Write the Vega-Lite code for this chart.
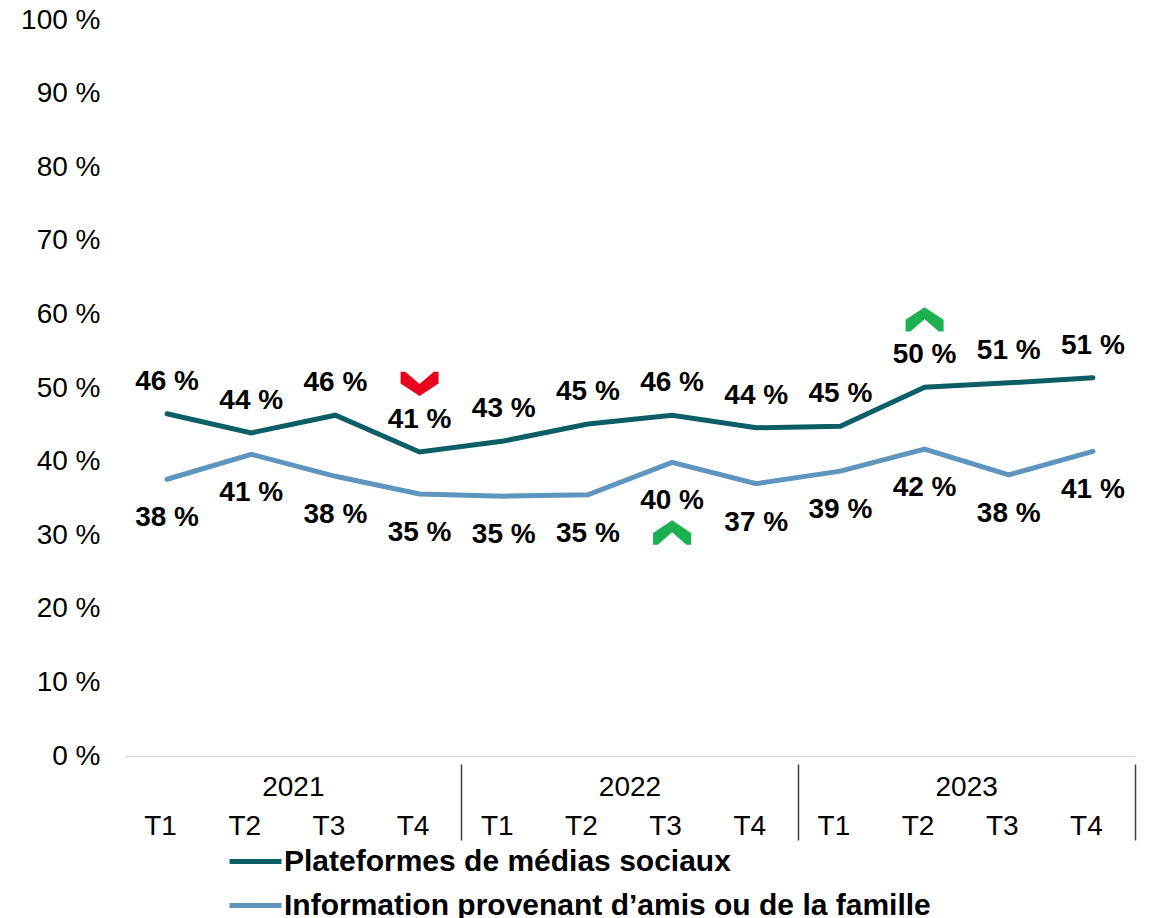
{
  "$schema": "https://vega.github.io/schema/vega-lite/v6.json",
  "autosize": {"type": "none"},
  "width": 1010,
  "height": 736,
  "padding": {"left": 125, "top": 20, "right": 18, "bottom": 162},
  "background": "white",
  "config": {
    "view": {"stroke": null},
    "font": "Liberation Sans",
    "axis": {"labelFont": "Liberation Sans", "labelColor": "#000000", "labelFontSize": 28}
  },
  "data": {
    "values": [
      {"period": "2021 T1", "year": "2021", "series": "Plateformes de médias sociaux", "value": 46.5, "label": "46 %"},
      {"period": "2021 T2", "year": "2021", "series": "Plateformes de médias sociaux", "value": 43.9, "label": "44 %"},
      {"period": "2021 T3", "year": "2021", "series": "Plateformes de médias sociaux", "value": 46.3, "label": "46 %"},
      {"period": "2021 T4", "year": "2021", "series": "Plateformes de médias sociaux", "value": 41.3, "label": "41 %", "arrow": "down"},
      {"period": "2022 T1", "year": "2022", "series": "Plateformes de médias sociaux", "value": 42.8, "label": "43 %"},
      {"period": "2022 T2", "year": "2022", "series": "Plateformes de médias sociaux", "value": 45.1, "label": "45 %"},
      {"period": "2022 T3", "year": "2022", "series": "Plateformes de médias sociaux", "value": 46.3, "label": "46 %"},
      {"period": "2022 T4", "year": "2022", "series": "Plateformes de médias sociaux", "value": 44.6, "label": "44 %"},
      {"period": "2023 T1", "year": "2023", "series": "Plateformes de médias sociaux", "value": 44.8, "label": "45 %"},
      {"period": "2023 T2", "year": "2023", "series": "Plateformes de médias sociaux", "value": 50.1, "label": "50 %", "arrow": "up"},
      {"period": "2023 T3", "year": "2023", "series": "Plateformes de médias sociaux", "value": 50.7, "label": "51 %"},
      {"period": "2023 T4", "year": "2023", "series": "Plateformes de médias sociaux", "value": 51.4, "label": "51 %"},
      {"period": "2021 T1", "year": "2021", "series": "Information provenant d’amis ou de la famille", "value": 37.6, "label": "38 %"},
      {"period": "2021 T2", "year": "2021", "series": "Information provenant d’amis ou de la famille", "value": 41.0, "label": "41 %"},
      {"period": "2021 T3", "year": "2021", "series": "Information provenant d’amis ou de la famille", "value": 38.0, "label": "38 %"},
      {"period": "2021 T4", "year": "2021", "series": "Information provenant d’amis ou de la famille", "value": 35.6, "label": "35 %"},
      {"period": "2022 T1", "year": "2022", "series": "Information provenant d’amis ou de la famille", "value": 35.3, "label": "35 %"},
      {"period": "2022 T2", "year": "2022", "series": "Information provenant d’amis ou de la famille", "value": 35.5, "label": "35 %"},
      {"period": "2022 T3", "year": "2022", "series": "Information provenant d’amis ou de la famille", "value": 39.9, "label": "40 %", "arrow": "up"},
      {"period": "2022 T4", "year": "2022", "series": "Information provenant d’amis ou de la famille", "value": 37.0, "label": "37 %"},
      {"period": "2023 T1", "year": "2023", "series": "Information provenant d’amis ou de la famille", "value": 38.7, "label": "39 %"},
      {"period": "2023 T2", "year": "2023", "series": "Information provenant d’amis ou de la famille", "value": 41.7, "label": "42 %"},
      {"period": "2023 T3", "year": "2023", "series": "Information provenant d’amis ou de la famille", "value": 38.2, "label": "38 %"},
      {"period": "2023 T4", "year": "2023", "series": "Information provenant d’amis ou de la famille", "value": 41.4, "label": "41 %"}
    ]
  },
  "layer": [
    {
      "mark": {"type": "point", "opacity": 0},
      "encoding": {
        "x": {
          "field": "year", "type": "ordinal",
          "scale": {"type": "band", "paddingInner": 0, "paddingOuter": 0},
          "axis": {
            "orient": "bottom", "title": null, "offset": 8, "domain": false, "grid": false,
            "ticks": true, "bandPosition": 1, "tickSize": 76, "tickColor": "#404040", "tickWidth": 1.5,
            "labelPadding": -67, "labelAngle": 0, "labelFontSize": 28
          }
        }
      }
    },
    {
      "encoding": {
        "x": {
          "field": "period", "type": "ordinal",
          "scale": {"type": "point", "padding": 0.5},
          "axis": {
            "orient": "bottom", "title": null, "domainColor": "#D9D9D9", "domainWidth": 1.5,
            "ticks": false, "grid": false, "labelPadding": 56, "labelAngle": 0, "labelOffset": -7,
            "labelExpr": "split(datum.value, ' ')[1]", "labelFontSize": 28
          }
        },
        "y": {
          "field": "value", "type": "quantitative",
          "scale": {"domain": [0, 100]},
          "axis": {
            "title": null, "values": [0, 10, 20, 30, 40, 50, 60, 70, 80, 90, 100],
            "labelExpr": "datum.value + ' %'", "domain": false, "ticks": false, "grid": false,
            "labelPadding": 25, "labelFontSize": 28
          }
        }
      },
      "layer": [
        {
          "mark": {"type": "line", "strokeWidth": 5, "strokeCap": "round"},
          "encoding": {
            "color": {
              "field": "series", "type": "nominal",
              "scale": {
                "domain": ["Plateformes de médias sociaux", "Information provenant d’amis ou de la famille"],
                "range": ["#0B5E65", "#5E95BE"]
              },
              "legend": {
                "title": null, "orient": "none", "legendX": 102, "legendY": 813, "direction": "vertical",
                "padding": 0, "symbolType": "stroke", "symbolSize": 2704, "symbolStrokeWidth": 5,
                "labelFont": "Liberation Sans", "labelFontSize": 30, "labelFontWeight": "bold",
                "labelColor": "#000000", "labelOffset": 0, "rowPadding": -9, "labelLimit": 0
              }
            }
          }
        },
        {
          "transform": [{"filter": "datum.series === 'Plateformes de médias sociaux'"}],
          "mark": {"type": "text", "dy": -32, "fontSize": 28, "fontWeight": "bold", "color": "#000000", "baseline": "middle"},
          "encoding": {"text": {"field": "label"}}
        },
        {
          "transform": [{"filter": "datum.series !== 'Plateformes de médias sociaux'"}],
          "mark": {"type": "text", "dy": 39, "fontSize": 28, "fontWeight": "bold", "color": "#000000", "baseline": "middle"},
          "encoding": {"text": {"field": "label"}}
        },
        {
          "transform": [{"filter": "datum.arrow != null && datum.series === 'Plateformes de médias sociaux'"}],
          "mark": {"type": "point", "filled": true, "size": 1444, "opacity": 1, "strokeWidth": 0, "yOffset": -68},
          "encoding": {
            "shape": {
              "field": "arrow", "type": "nominal", "legend": null,
              "scale": {"domain": ["down", "up"], "range": ["M-1,-0.65L-0.75,-0.65L0,0L0.75,-0.65L1,-0.65L1,-0.03L0,0.63L-1,-0.03Z", "M-1,0.65L-0.75,0.65L0,0L0.75,0.65L1,0.65L1,0.03L0,-0.63L-1,0.03Z"]}
            },
            "color": {"condition": {"test": "datum.arrow === 'down'", "value": "#E8001C"}, "value": "#1DB050"}
          }
        },
        {
          "transform": [{"filter": "datum.arrow != null && datum.series !== 'Plateformes de médias sociaux'"}],
          "mark": {"type": "point", "filled": true, "size": 1444, "opacity": 1, "strokeWidth": 0, "yOffset": 70},
          "encoding": {
            "shape": {
              "field": "arrow", "type": "nominal", "legend": null,
              "scale": {"domain": ["down", "up"], "range": ["M-1,-0.65L-0.75,-0.65L0,0L0.75,-0.65L1,-0.65L1,-0.03L0,0.63L-1,-0.03Z", "M-1,0.65L-0.75,0.65L0,0L0.75,0.65L1,0.65L1,0.03L0,-0.63L-1,0.03Z"]}
            },
            "color": {"condition": {"test": "datum.arrow === 'down'", "value": "#E8001C"}, "value": "#1DB050"}
          }
        }
      ]
    }
  ],
  "resolve": {"scale": {"x": "independent"}, "axis": {"x": "independent"}}
}
